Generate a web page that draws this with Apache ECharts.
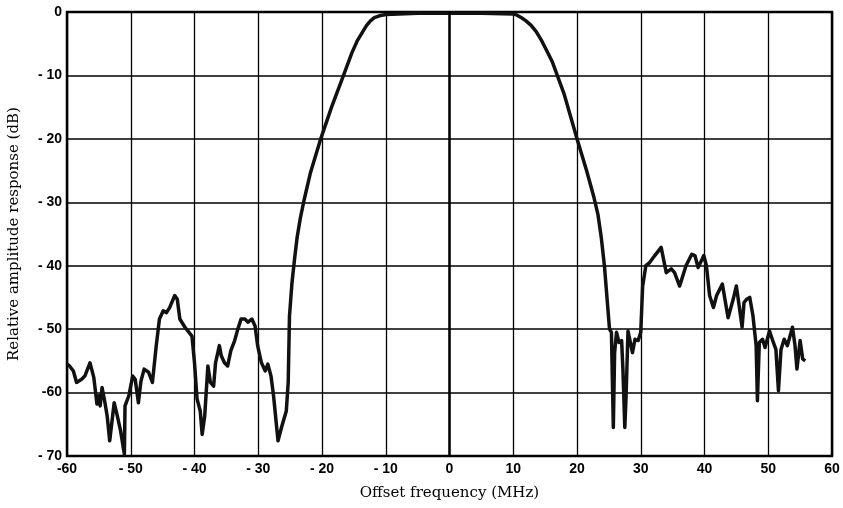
<!DOCTYPE html>
<html>
<head>
<meta charset="utf-8">
<script src="https://cdn.jsdelivr.net/npm/echarts@6/dist/echarts.min.js"></script>
<style>
html, body { margin: 0; padding: 0; background: #fff; }
#chart { width: 843px; height: 508px; }
</style>
</head>
<body>
<div id="chart"></div>
<script>
// offset frequency (MHz)
var freqMHz = [
	-60, -59.6, -59, -58.5, -57.7, -57.2, -56.9, -56.4, -55.8, -55.3,
	-55, -54.8, -54.5, -54.1, -53.7, -53.3, -52.6, -52.1, -51.6, -51,
	-50.9, -50.3, -49.7, -49.3, -48.8, -48.4, -47.9, -47.2, -46.6, -46,
	-45.5, -44.9, -44.4, -43.9, -43.1, -42.7, -42.3, -41.5, -40.4, -40,
	-39.6, -39.1, -38.8, -38.4, -37.9, -37.5, -37, -36.7, -36.1, -35.8,
	-35.3, -34.8, -34.3, -33.7, -33.2, -32.7, -32.1, -31.6, -31, -30.5,
	-30.1, -29.5, -28.9, -28.5, -28, -27.6, -26.9, -26.3, -25.6, -25.3,
	-25.1, -24.7, -24.3, -23.9, -23.4, -22.8, -21.8, -20.2, -18.5, -16.7,
	-15.3, -14.5, -13.6, -13, -12.4, -11.8, -11, -10, -5, 0,
	5, 10, 10.6, 11.3, 12, 12.8, 13.6, 14.5, 15.3, 16.1,
	18, 20, 21.5, 22.6, 23.3, 23.8, 24.3, 24.7, 25.1, 25.4,
	25.7, 25.9, 26.2, 26.6, 27, 27.2, 27.5, 27.7, 28, 28.3,
	28.7, 29.1, 29.6, 30, 30.3, 30.8, 31.4, 32.2, 33.2, 34,
	34.8, 35.3, 36.1, 37.1, 38, 38.5, 39, 39.9, 40.3, 40.8,
	41.4, 41.9, 42.8, 43.7, 44.5, 45, 45.5, 45.9, 46.2, 46.6,
	47.1, 47.6, 48.1, 48.3, 48.6, 49.1, 49.5, 50.2, 50.8, 51.2,
	51.6, 52, 52.5, 53, 53.8, 54.2, 54.5, 55, 55.4, 55.8
];
// relative amplitude response (dB)
var responseDb = [
	-55.5, -55.8, -56.6, -58.4, -57.9, -57.4, -57.6, -55.3, -57.6, -61.8,
	-60.5, -62.1, -59.2, -61.3, -63.7, -67.6, -61.6, -63.7, -66, -69.7,
	-62.1, -60.5, -57.4, -57.9, -61.6, -58.2, -56.3, -56.8, -58.4, -52.6,
	-48.4, -47.1, -47.4, -46.6, -44.7, -45.3, -48.4, -49.7, -51.1, -55.3,
	-61, -62.9, -66.6, -63.7, -55.8, -58.4, -59, -55.3, -52.6, -54.2,
	-55.3, -55.8, -53.4, -51.8, -50, -48.4, -48.4, -48.9, -48.4, -49.5,
	-52.6, -55.3, -56.6, -55.5, -57.4, -60.5, -67.6, -65.3, -62.9, -58.4,
	-47.9, -42.6, -38.9, -35.5, -32.5, -29.6, -25.3, -20, -15, -10.2,
	-6.4, -4.6, -3.1, -2.1, -1.4, -0.9, -0.6, -0.4, -0.2, -0.2,
	-0.2, -0.3, -0.5, -0.9, -1.4, -2.1, -3.1, -4.6, -6.2, -7.8,
	-13, -20, -25, -29, -32, -35.5, -40, -45, -50, -50.5,
	-65.5, -53.7, -50.5, -52.1, -51.8, -56.3, -65.5, -60.5, -50.3, -50.3,
	-53.7, -51.6, -51.8, -50.5, -43.2, -40, -39.5, -38.4, -37.1, -41.1,
	-40.5, -41.1, -43.2, -40, -38.2, -38.4, -40.3, -38.4, -40, -44.7,
	-46.6, -44.7, -42.9, -48.2, -45.3, -43.2, -46.8, -49.7, -45.8, -45.3,
	-45, -47.9, -52.6, -61.3, -52.1, -51.6, -52.9, -50.3, -52.1, -53.2,
	-59.7, -53.2, -51.6, -52.6, -49.7, -52.6, -56.3, -51.8, -54.7, -55
];

var lineData = [];
for (var i = 0; i < freqMHz.length; i++) {
	lineData.push([freqMHz[i], responseDb[i]]);
}

//刻度文字：负号后面留空格
function tickText(v) {
	if (v === -60) return '-60';
	if (v < 0) return '- ' + Math.abs(v);
	return '' + v;
}

var myChart = echarts.init(document.getElementById('chart'));
var tickFont = {
	color: '#000',
	fontFamily: 'Liberation Sans',
	fontWeight: 'bold',
	fontSize: 14
};
var nameFont = {
	color: '#000',
	fontFamily: 'DejaVu Serif',
	fontSize: 15
};
var option = {
	animation: false,
	backgroundColor: '#fff',
	grid: {
		left: 67,
		right: 11,
		top: 12,
		bottom: 52,
		show: true,
		borderColor: '#000',
		borderWidth: 2.5,
		containLabel: false,
		outerBoundsMode: 'none'
	},
	xAxis: {
		type: 'value',
		min: -60,
		max: 60,
		interval: 10,
		name: 'Offset frequency (MHz)',
		nameLocation: 'middle',
		nameGap: 30,
		nameTextStyle: nameFont,
		axisLine: { show: false },
		axisTick: { show: false },
		axisLabel: Object.assign({ margin: 6, formatter: tickText }, tickFont),
		splitLine: { show: true, lineStyle: { color: '#000', width: 1.3 } }
	},
	yAxis: {
		type: 'value',
		min: -70,
		max: 0,
		interval: 10,
		name: 'Relative amplitude response (dB)',
		nameLocation: 'middle',
		nameGap: 45,
		nameTextStyle: nameFont,
		axisLine: { show: false },
		axisTick: { show: false },
		axisLabel: Object.assign({ margin: 5, formatter: tickText }, tickFont),
		splitLine: { show: true, lineStyle: { color: '#000', width: 1.5 } }
	},
	series: [
		{
			type: 'line',
			data: lineData,
			symbol: 'none',
			smooth: false,
			lineStyle: { color: '#111', width: 3.5, join: 'round' },
			markLine: {
				silent: true,
				symbol: 'none',
				label: { show: false },
				lineStyle: { color: '#000', width: 2.5, type: 'solid' },
				data: [{ xAxis: 0 }]
			},
			z: 3
		}
	]
};
myChart.setOption(option);
</script>
</body>
</html>
